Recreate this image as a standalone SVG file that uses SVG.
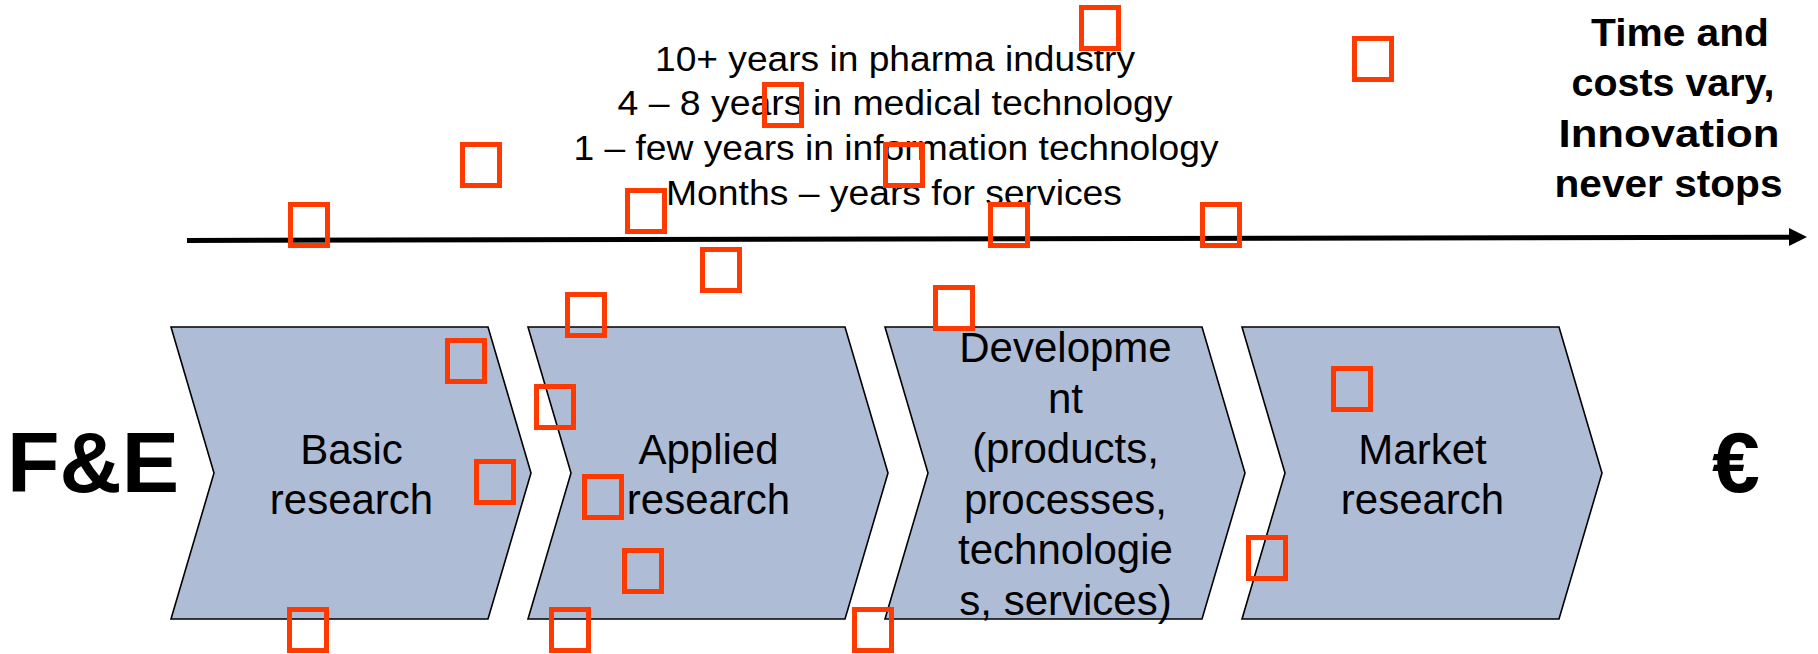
<svg xmlns="http://www.w3.org/2000/svg" width="1818" height="654" viewBox="0 0 1818 654">
<style>
.chev{fill:#AFBCD5;stroke:#000;stroke-width:1.6;stroke-linejoin:miter}
.lbl{font-family:"Liberation Sans",Arial,sans-serif;font-size:42px;fill:#000;text-anchor:middle}
.top{font-family:"Liberation Sans",Arial,sans-serif;font-size:35.5px;fill:#000;text-anchor:middle}
.rt{font-family:"Liberation Sans",Arial,sans-serif;font-size:38px;font-weight:bold;fill:#000;text-anchor:middle}
.big{font-family:"Liberation Sans",Arial,sans-serif;font-size:86px;font-weight:bold;fill:#000}
.sq{fill:none;stroke:#FF3A00;stroke-width:5}
</style>
<rect width="1818" height="654" fill="#fff"/>
<g id="connectors">
  <line x1="187" y1="240.5" x2="1792" y2="237.2" stroke="#000" stroke-width="5"/>
  <polygon points="1789,228 1807,237 1789,246" fill="#000"/>
</g>
<g id="node-basic">
  <polygon class="chev" points="171,327 488,327 531,473 488,619 171,619 214,473"/>
  <text class="lbl" x="351.5" y="464">Basic</text>
  <text class="lbl" x="351.5" y="514">research</text>
</g>
<g id="node-applied">
  <polygon class="chev" points="528,327 845,327 888,473 845,619 528,619 571,473"/>
  <text class="lbl" x="708.5" y="464">Applied</text>
  <text class="lbl" x="708.5" y="514">research</text>
</g>
<g id="node-development">
  <polygon class="chev" points="885,327 1202,327 1245,473 1202,619 885,619 928,473"/>
  <text class="lbl" x="1065.5" y="362">Developme</text>
  <text class="lbl" x="1065.5" y="412.6">nt</text>
  <text class="lbl" x="1065.5" y="463.2">(products,</text>
  <text class="lbl" x="1065.5" y="513.8">processes,</text>
  <text class="lbl" x="1065.5" y="564.4">technologie</text>
  <text class="lbl" x="1065.5" y="615">s, services)</text>
</g>
<g id="node-market">
  <polygon class="chev" points="1242,327 1559,327 1602,473 1559,619 1242,619 1285,473"/>
  <text class="lbl" x="1422.5" y="464">Market</text>
  <text class="lbl" x="1422.5" y="514">research</text>
</g>
<g id="label-fe">
  <text class="big" x="7" y="492">F&amp;E</text>
</g>
<g id="label-euro">
  <text class="big" x="1736" y="492" text-anchor="middle">€</text>
</g>
<g id="label-durations">
  <text class="top" x="895" y="70.7" textLength="480" lengthAdjust="spacingAndGlyphs">10+ years in pharma industry</text>
  <text class="top" x="895" y="115.3" textLength="555" lengthAdjust="spacingAndGlyphs">4 – 8 years in medical technology</text>
  <text class="top" x="896" y="160" textLength="645" lengthAdjust="spacingAndGlyphs">1 – few years in information technology</text>
  <text class="top" x="894" y="205" textLength="456" lengthAdjust="spacingAndGlyphs">Months – years for services</text>
</g>
<g id="label-time">
  <text class="rt" x="1680" y="45.5" textLength="178" lengthAdjust="spacingAndGlyphs">Time and</text>
  <text class="rt" x="1673" y="96" textLength="203" lengthAdjust="spacingAndGlyphs">costs vary,</text>
  <text class="rt" x="1669" y="146.5" textLength="221" lengthAdjust="spacingAndGlyphs">Innovation</text>
  <text class="rt" x="1668.5" y="197" textLength="228" lengthAdjust="spacingAndGlyphs">never stops</text>
</g>
<g id="markers">
  <rect class="sq" x="1081.5" y="7.5" width="37" height="41"/>
  <rect class="sq" x="1354.5" y="38.5" width="37" height="41"/>
  <rect class="sq" x="764.5" y="84.5" width="37" height="41"/>
  <rect class="sq" x="462.5" y="144.5" width="37" height="41"/>
  <rect class="sq" x="885.5" y="144.5" width="37" height="41"/>
  <rect class="sq" x="627.5" y="190.5" width="37" height="41"/>
  <rect class="sq" x="290.5" y="204.5" width="37" height="41"/>
  <rect class="sq" x="990.5" y="204.5" width="37" height="41"/>
  <rect class="sq" x="1202.5" y="204.5" width="37" height="41"/>
  <rect class="sq" x="702.5" y="249.5" width="37" height="41"/>
  <rect class="sq" x="567.5" y="294.5" width="37" height="41"/>
  <rect class="sq" x="935.5" y="287.5" width="37" height="41"/>
  <rect class="sq" x="447.5" y="340.5" width="37" height="41"/>
  <rect class="sq" x="536.5" y="386.5" width="37" height="41"/>
  <rect class="sq" x="1333.5" y="368.5" width="37" height="41"/>
  <rect class="sq" x="476.5" y="461.5" width="37" height="41"/>
  <rect class="sq" x="584.5" y="476.5" width="37" height="41"/>
  <rect class="sq" x="624.5" y="550.5" width="37" height="41"/>
  <rect class="sq" x="1248.5" y="537.5" width="37" height="41"/>
  <rect class="sq" x="289.5" y="609.5" width="37" height="41"/>
  <rect class="sq" x="551.5" y="609.5" width="37" height="41"/>
  <rect class="sq" x="854.5" y="609.5" width="37" height="41"/>
</g>
</svg>
